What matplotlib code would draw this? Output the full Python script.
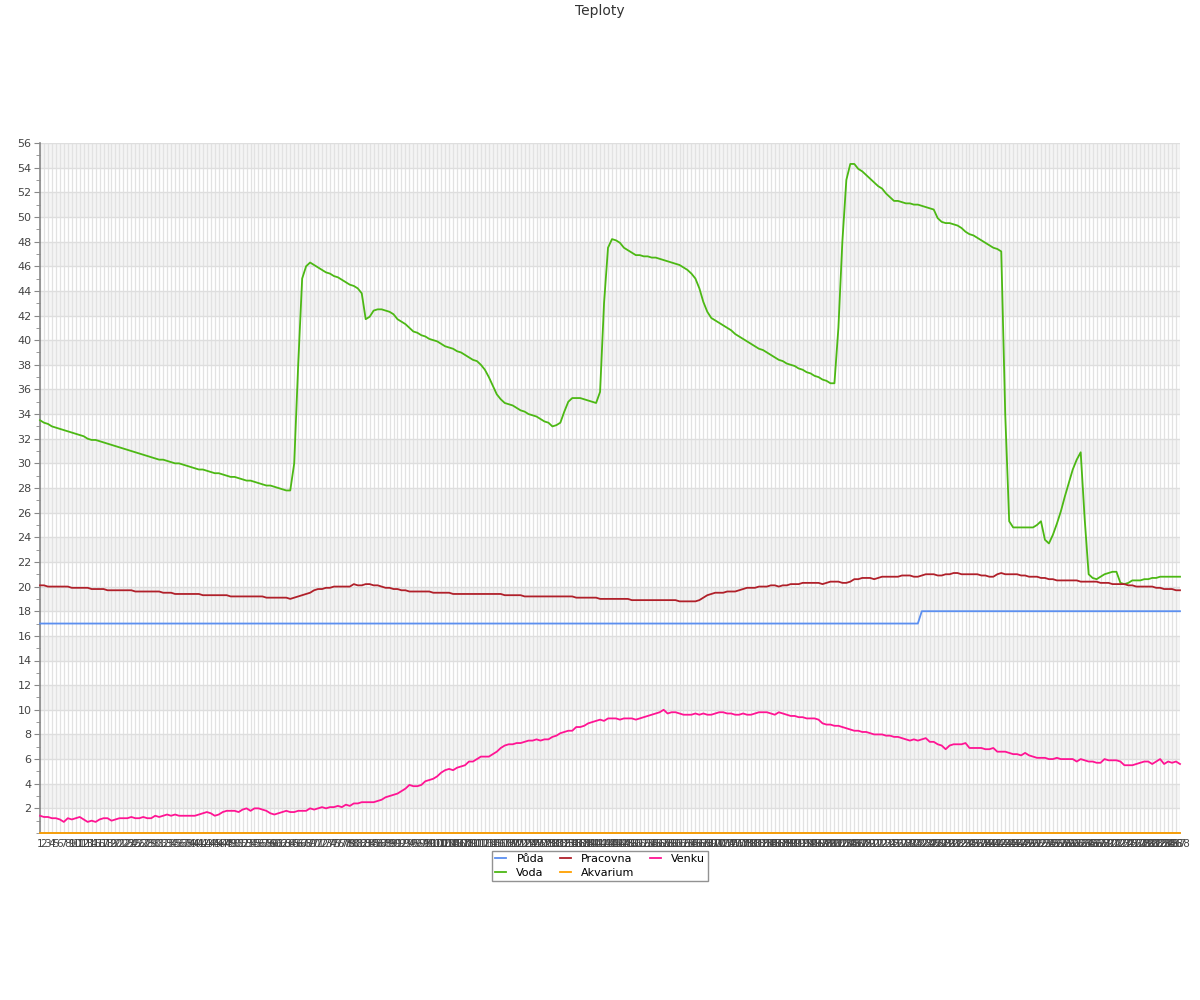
import matplotlib
matplotlib.use("Agg")
import matplotlib.pyplot as plt
from matplotlib.ticker import MultipleLocator

# ---- data (288 měření) ----
PUDA = [17.0] * 222 + [18.0] * 66

AKVARIUM = [0.0] * 288

VODA = [
    33.5, 33.3, 33.2, 33.0, 32.9, 32.8, 32.7, 32.6, 32.5, 32.4,
    32.3, 32.2, 32.0, 31.9, 31.9, 31.8, 31.7, 31.6, 31.5, 31.4,
    31.3, 31.2, 31.1, 31.0, 30.9, 30.8, 30.7, 30.6, 30.5, 30.4,
    30.3, 30.3, 30.2, 30.1, 30.0, 30.0, 29.9, 29.8, 29.7, 29.6,
    29.5, 29.5, 29.4, 29.3, 29.2, 29.2, 29.1, 29.0, 28.9, 28.9,
    28.8, 28.7, 28.6, 28.6, 28.5, 28.4, 28.3, 28.2, 28.2, 28.1,
    28.0, 27.9, 27.8, 27.8, 30.0, 38.0, 45.0, 46.0, 46.3, 46.1,
    45.9, 45.7, 45.5, 45.4, 45.2, 45.1, 44.9, 44.7, 44.5, 44.4,
    44.2, 43.8, 41.7, 41.9, 42.4, 42.5, 42.5, 42.4, 42.3, 42.1,
    41.7, 41.5, 41.3, 41.0, 40.7, 40.6, 40.4, 40.3, 40.1, 40.0,
    39.9, 39.7, 39.5, 39.4, 39.3, 39.1, 39.0, 38.8, 38.6, 38.4,
    38.3, 38.0, 37.6, 37.0, 36.3, 35.6, 35.2, 34.9, 34.8, 34.7,
    34.5, 34.3, 34.2, 34.0, 33.9, 33.8, 33.6, 33.4, 33.3, 33.0,
    33.1, 33.3, 34.2, 35.0, 35.3, 35.3, 35.3, 35.2, 35.1, 35.0,
    34.9, 35.8, 43.0, 47.5, 48.2, 48.1, 47.9, 47.5, 47.3, 47.1,
    46.9, 46.9, 46.8, 46.8, 46.7, 46.7, 46.6, 46.5, 46.4, 46.3,
    46.2, 46.1, 45.9, 45.7, 45.4, 45.0, 44.2, 43.1, 42.3, 41.8,
    41.6, 41.4, 41.2, 41.0, 40.8, 40.5, 40.3, 40.1, 39.9, 39.7,
    39.5, 39.3, 39.2, 39.0, 38.8, 38.6, 38.4, 38.3, 38.1, 38.0,
    37.9, 37.7, 37.6, 37.4, 37.3, 37.1, 37.0, 36.8, 36.7, 36.5,
    36.5, 41.0, 48.0, 53.0, 54.3, 54.3, 53.9, 53.7, 53.4, 53.1,
    52.8, 52.5, 52.3, 51.9, 51.6, 51.3, 51.3, 51.2, 51.1, 51.1,
    51.0, 51.0, 50.9, 50.8, 50.7, 50.6, 49.9, 49.6, 49.5, 49.5,
    49.4, 49.3, 49.1, 48.8, 48.6, 48.5, 48.3, 48.1, 47.9, 47.7,
    47.5, 47.4, 47.2, 34.0, 25.3, 24.8, 24.8, 24.8, 24.8, 24.8,
    24.8, 25.0, 25.3, 23.8, 23.5, 24.2, 25.1, 26.1, 27.3, 28.4,
    29.5, 30.3, 30.9, 25.5, 21.0, 20.7, 20.6, 20.8, 21.0, 21.1,
    21.2, 21.2, 20.3, 20.2, 20.3, 20.5, 20.5, 20.5, 20.6, 20.6,
    20.7, 20.7, 20.8, 20.8, 20.8, 20.8, 20.8, 20.8,
]

PRACOVNA = [
    20.1, 20.1, 20.0, 20.0, 20.0, 20.0, 20.0, 20.0, 19.9, 19.9,
    19.9, 19.9, 19.9, 19.8, 19.8, 19.8, 19.8, 19.7, 19.7, 19.7,
    19.7, 19.7, 19.7, 19.7, 19.6, 19.6, 19.6, 19.6, 19.6, 19.6,
    19.6, 19.5, 19.5, 19.5, 19.4, 19.4, 19.4, 19.4, 19.4, 19.4,
    19.4, 19.3, 19.3, 19.3, 19.3, 19.3, 19.3, 19.3, 19.2, 19.2,
    19.2, 19.2, 19.2, 19.2, 19.2, 19.2, 19.2, 19.1, 19.1, 19.1,
    19.1, 19.1, 19.1, 19.0, 19.1, 19.2, 19.3, 19.4, 19.5, 19.7,
    19.8, 19.8, 19.9, 19.9, 20.0, 20.0, 20.0, 20.0, 20.0, 20.2,
    20.1, 20.1, 20.2, 20.2, 20.1, 20.1, 20.0, 19.9, 19.9, 19.8,
    19.8, 19.7, 19.7, 19.6, 19.6, 19.6, 19.6, 19.6, 19.6, 19.5,
    19.5, 19.5, 19.5, 19.5, 19.4, 19.4, 19.4, 19.4, 19.4, 19.4,
    19.4, 19.4, 19.4, 19.4, 19.4, 19.4, 19.4, 19.3, 19.3, 19.3,
    19.3, 19.3, 19.2, 19.2, 19.2, 19.2, 19.2, 19.2, 19.2, 19.2,
    19.2, 19.2, 19.2, 19.2, 19.2, 19.1, 19.1, 19.1, 19.1, 19.1,
    19.1, 19.0, 19.0, 19.0, 19.0, 19.0, 19.0, 19.0, 19.0, 18.9,
    18.9, 18.9, 18.9, 18.9, 18.9, 18.9, 18.9, 18.9, 18.9, 18.9,
    18.9, 18.8, 18.8, 18.8, 18.8, 18.8, 18.9, 19.1, 19.3, 19.4,
    19.5, 19.5, 19.5, 19.6, 19.6, 19.6, 19.7, 19.8, 19.9, 19.9,
    19.9, 20.0, 20.0, 20.0, 20.1, 20.1, 20.0, 20.1, 20.1, 20.2,
    20.2, 20.2, 20.3, 20.3, 20.3, 20.3, 20.3, 20.2, 20.3, 20.4,
    20.4, 20.4, 20.3, 20.3, 20.4, 20.6, 20.6, 20.7, 20.7, 20.7,
    20.6, 20.7, 20.8, 20.8, 20.8, 20.8, 20.8, 20.9, 20.9, 20.9,
    20.8, 20.8, 20.9, 21.0, 21.0, 21.0, 20.9, 20.9, 21.0, 21.0,
    21.1, 21.1, 21.0, 21.0, 21.0, 21.0, 21.0, 20.9, 20.9, 20.8,
    20.8, 21.0, 21.1, 21.0, 21.0, 21.0, 21.0, 20.9, 20.9, 20.8,
    20.8, 20.8, 20.7, 20.7, 20.6, 20.6, 20.5, 20.5, 20.5, 20.5,
    20.5, 20.5, 20.4, 20.4, 20.4, 20.4, 20.4, 20.3, 20.3, 20.3,
    20.2, 20.2, 20.2, 20.2, 20.1, 20.1, 20.0, 20.0, 20.0, 20.0,
    20.0, 19.9, 19.9, 19.8, 19.8, 19.8, 19.7, 19.7,
]

VENKU = [
    1.4, 1.3, 1.3, 1.2, 1.2, 1.1, 0.9, 1.2, 1.1, 1.2,
    1.3, 1.1, 0.9, 1.0, 0.9, 1.1, 1.2, 1.2, 1.0, 1.1,
    1.2, 1.2, 1.2, 1.3, 1.2, 1.2, 1.3, 1.2, 1.2, 1.4,
    1.3, 1.4, 1.5, 1.4, 1.5, 1.4, 1.4, 1.4, 1.4, 1.4,
    1.5, 1.6, 1.7, 1.6, 1.4, 1.5, 1.7, 1.8, 1.8, 1.8,
    1.7, 1.9, 2.0, 1.8, 2.0, 2.0, 1.9, 1.8, 1.6, 1.5,
    1.6, 1.7, 1.8, 1.7, 1.7, 1.8, 1.8, 1.8, 2.0, 1.9,
    2.0, 2.1, 2.0, 2.1, 2.1, 2.2, 2.1, 2.3, 2.2, 2.4,
    2.4, 2.5, 2.5, 2.5, 2.5, 2.6, 2.7, 2.9, 3.0, 3.1,
    3.2, 3.4, 3.6, 3.9, 3.8, 3.8, 3.9, 4.2, 4.3, 4.4,
    4.6, 4.9, 5.1, 5.2, 5.1, 5.3, 5.4, 5.5, 5.8, 5.8,
    6.0, 6.2, 6.2, 6.2, 6.4, 6.6, 6.9, 7.1, 7.2, 7.2,
    7.3, 7.3, 7.4, 7.5, 7.5, 7.6, 7.5, 7.6, 7.6, 7.8,
    7.9, 8.1, 8.2, 8.3, 8.3, 8.6, 8.6, 8.7, 8.9, 9.0,
    9.1, 9.2, 9.1, 9.3, 9.3, 9.3, 9.2, 9.3, 9.3, 9.3,
    9.2, 9.3, 9.4, 9.5, 9.6, 9.7, 9.8, 10.0, 9.7, 9.8,
    9.8, 9.7, 9.6, 9.6, 9.6, 9.7, 9.6, 9.7, 9.6, 9.6,
    9.7, 9.8, 9.8, 9.7, 9.7, 9.6, 9.6, 9.7, 9.6, 9.6,
    9.7, 9.8, 9.8, 9.8, 9.7, 9.6, 9.8, 9.7, 9.6, 9.5,
    9.5, 9.4, 9.4, 9.3, 9.3, 9.3, 9.2, 8.9, 8.8, 8.8,
    8.7, 8.7, 8.6, 8.5, 8.4, 8.3, 8.3, 8.2, 8.2, 8.1,
    8.0, 8.0, 8.0, 7.9, 7.9, 7.8, 7.8, 7.7, 7.6, 7.5,
    7.6, 7.5, 7.6, 7.7, 7.4, 7.4, 7.2, 7.1, 6.8, 7.1,
    7.2, 7.2, 7.2, 7.3, 6.9, 6.9, 6.9, 6.9, 6.8, 6.8,
    6.9, 6.6, 6.6, 6.6, 6.5, 6.4, 6.4, 6.3, 6.5, 6.3,
    6.2, 6.1, 6.1, 6.1, 6.0, 6.0, 6.1, 6.0, 6.0, 6.0,
    6.0, 5.8, 6.0, 5.9, 5.8, 5.8, 5.7, 5.7, 6.0, 5.9,
    5.9, 5.9, 5.8, 5.5, 5.5, 5.5, 5.6, 5.7, 5.8, 5.8,
    5.6, 5.8, 6.0, 5.6, 5.8, 5.7, 5.8, 5.6,
]

LABELS = [str(i + 1) for i in range(len(VODA))]

SERIES = [
    ("Půda", PUDA, "#5b8ff0"),
    ("Voda", VODA, "#4cb814"),
    ("Pracovna", PRACOVNA, "#b0202a"),
    ("Akvarium", AKVARIUM, "#ffa000"),
    ("Venku", VENKU, "#ff1493"),
]


def main():
    fig = plt.figure(figsize=(12, 10), dpi=100)
    ax = fig.add_axes([40 / 1200, 0.167, 1140 / 1200, 0.69])

    n = len(VODA)
    x = list(range(n))

    # střídavé pruhy pozadí
    for lo in range(2, 56, 4):
        ax.axhspan(lo, lo + 2, color="#f4f4f4", zorder=0, lw=0)

    for name, vals, color in SERIES:
        ax.plot(x, vals, color=color, lw=1.3, label=name, zorder=3,
                clip_on=False)

    ax.set_xlim(0, n - 1)
    ax.set_ylim(0, 56)
    ax.set_yticks(range(2, 57, 2))
    ax.yaxis.set_minor_locator(MultipleLocator(1))
    ax.set_xticks(x)
    ax.set_xticklabels(LABELS, fontsize=7.5, color="#444444")

    ax.grid(axis="x", which="major", color="#e2e2e2", lw=0.9, zorder=1)
    ax.grid(axis="y", which="major", color="#dedede", lw=1.0, zorder=1)
    ax.set_axisbelow(True)
    ax.tick_params(axis="x", length=0, pad=4)
    ax.tick_params(axis="y", which="major", length=4, color="#888888",
                   labelsize=8, labelcolor="#444444", pad=2)
    ax.tick_params(axis="y", which="minor", length=3, color="#888888")

    for side in ("top", "right"):
        ax.spines[side].set_visible(False)
    for side in ("left", "bottom"):
        ax.spines[side].set_color("#888888")
        ax.spines[side].set_linewidth(1.2)

    fig.text(0.5, 0.989, "Teploty", ha="center", va="center",
             fontsize=10, color="#333333")

    leg = fig.legend(loc="upper center", bbox_to_anchor=(0.5, 0.149),
                     borderaxespad=0, ncol=3, fontsize=8, handlelength=1.0,
                     frameon=True, fancybox=False, edgecolor="#777777",
                     columnspacing=1.4, handletextpad=0.9,
                     borderpad=0.3, labelspacing=0.3)
    leg.get_frame().set_linewidth(1.0)

    fig.savefig("out.png", dpi=100)
    plt.close(fig)


if __name__ == "__main__":
    main()
